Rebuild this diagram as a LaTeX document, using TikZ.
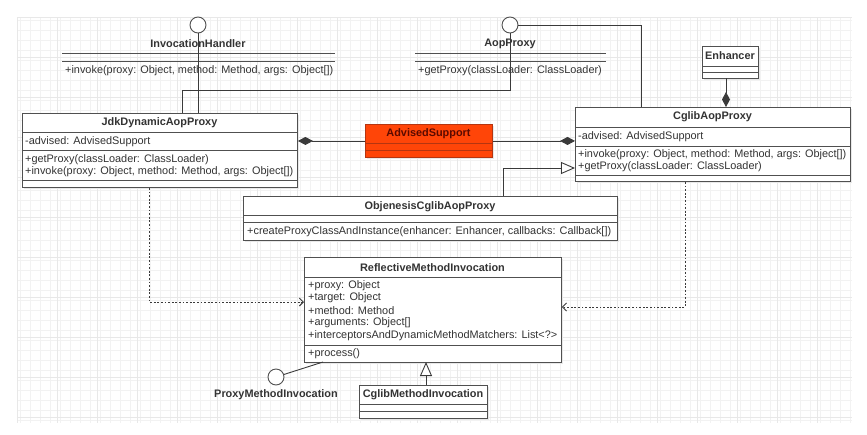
\documentclass[tikz,border=0pt]{standalone}
\usepackage{fontspec}
\setmainfont{Liberation Sans}
\usetikzlibrary{arrows.meta,calc}
\definecolor{linec}{HTML}{3A3A3A}
\definecolor{boxc}{HTML}{505050}
\definecolor{textc}{HTML}{333333}
\definecolor{gridminor}{HTML}{F2F2F2}
\definecolor{gridmajor}{HTML}{E8E8E8}
\definecolor{advfill}{HTML}{FF4508}
\definecolor{advline}{HTML}{B53510}
\definecolor{advtext}{HTML}{5A0A00}
\tikzset{
  box/.style={draw=boxc, fill=white, line width=0.9pt, rectangle, inner sep=0pt, anchor=north west},
  shadowbox/.style={fill=black!9, draw=none, rectangle, inner sep=0pt, anchor=north west},
  divider/.style={draw=boxc, line width=0.9pt},
  ctitle/.style={font=\bfseries\fontsize{10.9}{12}\selectfont, text=textc, inner sep=0pt},
  member/.style={font=\fontsize{10.9}{12}\selectfont, text=textc, anchor=west, inner sep=0pt},
  iface/.style={circle, draw=boxc, fill=white, line width=0.9pt, minimum size=16pt, inner sep=0pt},
  conn/.style={draw=linec, line width=0.9pt},
  comp/.style={conn, {Diamond[length=15pt,width=8pt]}-},
  gen/.style={conn, -{Triangle[open,length=14pt,width=12pt,fill=white]}},
  dep/.style={conn, dash pattern=on 1.8pt off 1.8pt, -{Straight Barb[length=4pt,width=8pt]}},
}
\begin{document}
\begin{tikzpicture}[x=1pt,y=-1pt]
\useasboundingbox (0,0) rectangle (867,434);
% background grid
\draw[gridminor, line width=0.5pt, step=10pt] (17,17) grid (852,423);
\foreach \gx in {17,57,...,852} \draw[gridmajor, line width=0.5pt] (\gx,17) -- (\gx,423);
\foreach \gy in {17,57,...,423} \draw[gridmajor, line width=0.5pt] (17,\gy) -- (852,\gy);

\coordinate (b1) at (510,90);
\coordinate (b2) at (182,90);
\coordinate (b3) at (641,25);
\coordinate (b4) at (503,168);
\coordinate (b5) at (149,302);
\coordinate (b6) at (685,307);
\coordinate (b7) at (323,362);
\coordinate (b8) at (426,362);
\coordinate (b9) at (726,78);
\coordinate (b10) at (198,113);

% ---------- shadows ----------
\node[shadowbox, minimum width=275pt, minimum height=74pt] (jdkS) at (24,115) {};
\node[shadowbox, minimum width=275pt, minimum height=74pt] (cglibS) at (577,109) {};
\node[shadowbox, minimum width=127pt, minimum height=33pt] (advS) at (367,126) {};
\node[shadowbox, minimum width=56pt, minimum height=32pt] (enhS) at (704,48) {};
\node[shadowbox, minimum width=374pt, minimum height=44pt] (objS) at (245,198) {};
\node[shadowbox, minimum width=257pt, minimum height=105pt] (reflS) at (306,259) {};
\node[shadowbox, minimum width=128pt, minimum height=33pt] (cmiS) at (361,387) {};

% ---------- InvocationHandler interface ----------
\node[iface] (ihC) at (198,25) {};
\node[ctitle] (ihT) at (198,44) {InvocationHandler};
\draw[divider] (62,53) -- (335,53);
\draw[divider] (62,61) -- (335,61);
\node[member] (ihM) at (65,70.5) {+invoke(proxy: Object, method: Method, args: Object[])};

% ---------- AopProxy interface ----------
\node[iface] (apC) at (510,25) {};
\node[ctitle] (apT) at (510,44) {AopProxy};
\draw[divider] (415,53) -- (606,53);
\draw[divider] (415,61) -- (606,61);
\node[member] (apM) at (418,70.5) {+getProxy(classLoader: ClassLoader)};

% ---------- JdkDynamicAopProxy ----------
\node[box, minimum width=275pt, minimum height=74pt] (jdk) at (22,113) {};
\draw[divider] (22,132) -- (297,132);
\draw[divider] (22,150) -- (297,150);
\draw[divider] (22,180) -- (297,180);
\node[ctitle] (jdkT) at (159.5,123) {JdkDynamicAopProxy};
\node[member] (jdkA) at (25,141.5) {-advised: AdvisedSupport};
\node[member] (jdkM1) at (25,160) {+getProxy(classLoader: ClassLoader)};
\node[member] (jdkM2) at (25,172) {+invoke(proxy: Object, method: Method, args: Object[])};

% ---------- CglibAopProxy ----------
\node[box, minimum width=275pt, minimum height=74pt] (cglib) at (575,107) {};
\draw[divider] (575,127) -- (850,127);
\draw[divider] (575,146) -- (850,146);
\draw[divider] (575,175) -- (850,175);
\node[ctitle] (cglibT) at (712.5,117) {CglibAopProxy};
\node[member] (cglibA) at (578,136.5) {-advised: AdvisedSupport};
\node[member] (cglibM1) at (578,154.5) {+invoke(proxy: Object, method: Method, args: Object[])};
\node[member] (cglibM2) at (578,166.5) {+getProxy(classLoader: ClassLoader)};

% ---------- AdvisedSupport ----------
\node[box, draw=advline, fill=advfill, minimum width=127pt, minimum height=33pt] (adv) at (365,124) {};
\draw[divider, draw=advline] (365,143) -- (492,143);
\draw[divider, draw=advline] (365,150) -- (492,150);
\node[ctitle, text=advtext] (advT) at (428.5,134) {AdvisedSupport};

% ---------- Enhancer ----------
\node[box, minimum width=56pt, minimum height=32pt] (enh) at (702,46) {};
\draw[divider] (702,66) -- (758,66);
\draw[divider] (702,72) -- (758,72);
\node[ctitle] (enhT) at (730,56) {Enhancer};

% ---------- ObjenesisCglibAopProxy ----------
\node[box, minimum width=374pt, minimum height=44pt] (obj) at (243,196) {};
\draw[divider] (243,215) -- (617,215);
\draw[divider] (243,222) -- (617,222);
\node[ctitle] (objT) at (430,206.5) {ObjenesisCglibAopProxy};
\node[member] (objM) at (247,231.5) {+createProxyClassAndInstance(enhancer: Enhancer, callbacks: Callback[])};

% ---------- ReflectiveMethodInvocation ----------
\node[box, minimum width=257pt, minimum height=105pt] (refl) at (304,257) {};
\draw[divider] (304,277) -- (561,277);
\draw[divider] (304,345) -- (561,345);
\node[ctitle] (reflT) at (432.5,267.5) {ReflectiveMethodInvocation};
\node[member] (reflA1) at (308,285.5) {+proxy: Object};
\node[member] (reflA2) at (308,298) {+target: Object};
\node[member] (reflA3) at (308,310.5) {+method: Method};
\node[member] (reflA4) at (308,323) {+arguments: Object[]};
\node[member] (reflA5) at (308,335.5) {+interceptorsAndDynamicMethodMatchers: List<?>};
\node[member] (reflM) at (308,354) {+process()};

% ---------- CglibMethodInvocation ----------
\node[box, minimum width=128pt, minimum height=33pt] (cmi) at (359,385) {};
\draw[divider] (359,404) -- (487,404);
\draw[divider] (359,411) -- (487,411);
\node[ctitle] (cmiT) at (423,395) {CglibMethodInvocation};

% ---------- ProxyMethodInvocation interface ----------
\node[iface] (pmiC) at (276,377) {};
\node[ctitle] (pmiT) at (276,394.5) {ProxyMethodInvocation};

% ---------- connectors ----------
\draw[conn] (ihC.south) -- (b10);
\draw[conn] (apC.south) -- (b1) -- (b2) -- (b2 |- jdk.north);
\draw[conn] (apC.east) -- (b3) -- (b3 |- cglib.north);
\draw[comp] (b9 |- cglib.north) -- (b9);
\draw[comp] (adv.west -| jdk.east) -- (adv.west);
\draw[comp] (adv.east -| cglib.west) -- (adv.east);
\draw[gen] (b4 |- obj.north) -- (b4) -- (b4 -| cglib.west);
\draw[dep] (b5 |- jdk.south) -- (b5) -- (b5 -| refl.west);
\draw[dep] (b6 |- cglib.south) -- (b6) -- (b6 -| refl.east);
\draw[conn] (pmiC) -- (b7);
\draw[gen] (b8 |- cmi.north) -- (b8);
\end{tikzpicture}
\end{document}
